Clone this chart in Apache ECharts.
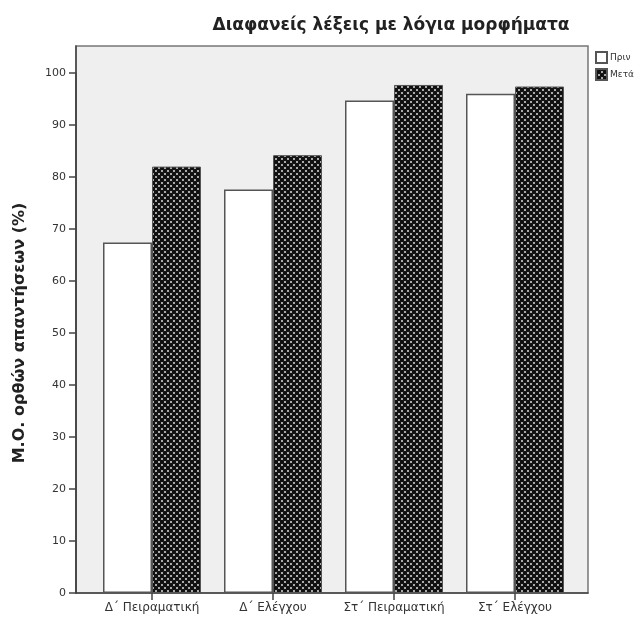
<!DOCTYPE html>
<html>
<head>
<meta charset="utf-8">
<script src="https://cdn.jsdelivr.net/npm/echarts@6/dist/echarts.min.js"></script>
<style>
html,body{margin:0;padding:0;background:#fff;}
#chart{width:643px;height:619px;}
</style>
</head>
<body>
<div id="chart"></div>
<script>
const titleText = 'Διαφανείς λέξεις με λόγια μορφήματα';
const yAxisName = 'Μ.Ο. ορθών απαντήσεων (%)';
const categories = ['Δ΄ Πειραματική', 'Δ΄ Ελέγχου', 'Στ΄ Πειραματική', 'Στ΄ Ελέγχου'];
const seriesNames = ['Πριν', 'Μετά'];
const beforeValues = [67.4, 77.6, 94.7, 96.0];
const afterValues = [82.0, 84.2, 97.7, 97.4];
const yTickValues = [0, 10, 20, 30, 40, 50, 60, 70, 80, 90, 100];

// pattern for the "Μετά" bars
function makePattern() {
  const c = document.createElement('canvas');
  c.width = 6; c.height = 6;
  const g = c.getContext('2d');
  g.fillStyle = '#a0a0a0';
  g.fillRect(0, 0, 6, 6);
  g.fillStyle = '#111';
  [[0,0],[6,0],[0,6],[6,6],[3,3]].forEach(p => {
    g.beginPath(); g.arc(p[0], p[1], 2.3, 0, Math.PI * 2); g.fill();
  });
  g.fillStyle = '#fff';
  [[3,0],[0,3],[6,3],[3,6]].forEach(p => {
    g.beginPath(); g.arc(p[0], p[1], 0.7, 0, Math.PI * 2); g.fill();
  });
  return c;
}
const pattern = { image: makePattern(), repeat: 'repeat' };

const chart = echarts.init(document.getElementById('chart'), null, { renderer: 'canvas' });
const font = '"DejaVu Sans", Verdana, sans-serif';
chart.setOption({
  backgroundColor: '#fff',
  animation: false,
  title: {
    text: titleText,
    left: 386, top: 12, textAlign: 'center',
    textStyle: { fontFamily: font, fontSize: 17, fontWeight: 'bold', color: '#222' }
  },
  legend: {
    data: seriesNames,
    orient: 'vertical',
    left: 590, top: 46,
    itemWidth: 11, itemHeight: 11, itemGap: 4,
    icon: 'rect',
    textStyle: { fontFamily: font, fontSize: 9, color: '#333', padding: [0, 0, 0, -2] }
  },
  grid: [
    { left: 76, top: 46, width: 512, height: 547, show: true, backgroundColor: '#efefef', borderColor: '#777', borderWidth: 1.5 },
    { left: 91.5, top: 73, width: 484, height: 520 }
  ],
  xAxis: [
    { gridIndex: 0, type: 'value', min: 0, max: 1, axisLine: { show: true, lineStyle: { color: '#444', width: 1.5 } }, axisTick: { show: false }, axisLabel: { show: false }, splitLine: { show: false } },
    { gridIndex: 1, type: 'category', data: categories, boundaryGap: true,
      axisLine: { show: false },
      axisTick: { show: true, alignWithLabel: true, interval: 0, length: 7, lineStyle: { color: '#444', width: 1.5 } },
      axisLabel: { interval: 0, margin: 9, fontFamily: font, fontSize: 12, color: '#333' } }
  ],
  yAxis: [
    { gridIndex: 0, type: 'value', min: 0, max: 105.2, axisLine: { show: true, lineStyle: { color: '#444', width: 1.5 } }, axisTick: { show: false }, axisLabel: { show: false }, splitLine: { show: false } },
    { gridIndex: 1, type: 'value', min: yTickValues[0], max: yTickValues[yTickValues.length - 1], interval: 10, offset: 15.5,
      name: yAxisName, nameLocation: 'middle', nameGap: 48,
      nameTextStyle: { fontFamily: font, fontSize: 16, fontWeight: 'bold', color: '#222' },
      axisLine: { show: true, lineStyle: { color: '#444', width: 1.5 } },
      axisTick: { show: true, length: 7, lineStyle: { color: '#444', width: 1.5 } },
      axisLabel: { margin: 10, fontFamily: font, fontSize: 11, color: '#333' },
      splitLine: { show: false } }
  ],
  series: [
    { name: seriesNames[0], type: 'bar', xAxisIndex: 1, yAxisIndex: 1, data: beforeValues, barWidth: 49, barGap: '0%',
      itemStyle: { color: '#fff', borderColor: '#555', borderWidth: 1.5 } },
    { name: seriesNames[1], type: 'bar', xAxisIndex: 1, yAxisIndex: 1, data: afterValues, barWidth: 49, barGap: '0%',
      itemStyle: { color: pattern, borderColor: '#555', borderWidth: 1 } }
  ]
});
</script>
</body>
</html>
